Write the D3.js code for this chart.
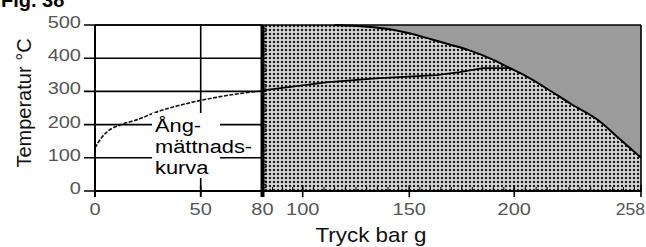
<!DOCTYPE html>
<html>
<head>
<meta charset="utf-8">
<script src="https://cdn.jsdelivr.net/npm/d3@7"></script>
<style>
  body { margin: 0; background: #fff; }
  text { font-family: "Liberation Sans", Arial, sans-serif; }
</style>
</head>
<body>
<div id="chart"></div>
<script>
// tick labels
var xTicks = [0, 50, 80, 100, 150, 200, 258];
var yTicks = [0, 100, 200, 300, 400, 500];

// saturation curve (Ång-mättnadskurva), pressure bar g / temperatur °C
var satP = [0, 3, 6, 12, 20, 30, 40, 50, 64, 80];
var satT = [130, 160, 180, 199, 215, 240, 258, 273, 289, 302];

// middle line in the dotted zone
var midP = [80, 93, 112, 136, 163, 174, 185, 198];
var midT = [303, 313, 328, 340, 349, 358, 370, 370];

// upper limit curve, gray above it
var limP = [115, 130, 140, 150, 160, 170, 178, 190, 198, 207, 215, 226, 239, 248, 258];
var limT = [500, 495, 488, 475, 458, 440, 425, 395, 370, 340, 308, 262, 210, 158, 100];

var labelLines = ["Ång-", "mättnads-", "kurva"];

var W = 646, H = 247;
var svg = d3.select("#chart").append("svg").attr("width", W).attr("height", H);

// axis positions (drawing is slightly uneven)
var x = d3.scaleLinear().domain(xTicks).range([95, 200.7, 262.5, 302.7, 409.3, 514.3, 641]);
var y = d3.scaleLinear().domain([0, 500]).range([191, 25]);

function zip(a, b) { return a.map(function(d, i) { return [d, b[i]]; }); }

// dot pattern
var defs = svg.append("defs");
var pat = defs.append("pattern").attr("id", "dots").attr("patternUnits", "userSpaceOnUse")
  .attr("width", 4).attr("height", 4);
pat.append("rect").attr("width", 4).attr("height", 4).attr("fill", "#e4e4e4");
pat.append("rect").attr("x", 0.5).attr("y", 0.5).attr("width", 3).attr("height", 3).attr("fill", "#a8a8a8");
pat.append("rect").attr("x", 1).attr("y", 1).attr("width", 2).attr("height", 2).attr("fill", "#1e1e1e");

var x80 = x(80), xR = x(258), yTop = y(500), yBot = y(0);

svg.append("rect").attr("x", x80).attr("y", yTop).attr("width", xR - x80).attr("height", yBot - yTop)
  .attr("fill", "url(#dots)");

// gray zone above the limit curve
var lim = zip(limP, limT);
var limLine = d3.line().curve(d3.curveMonotoneX).x(function(d) { return x(d[0]); }).y(function(d) { return y(d[1]); });
svg.append("path").datum(lim)
  .attr("d", d3.area().curve(d3.curveMonotoneX).x(function(d) { return x(d[0]); }).y0(yTop).y1(function(d) { return y(d[1]); }))
  .attr("fill", "#9b9b9b");
svg.append("path").datum(lim).attr("d", limLine)
  .attr("fill", "none").attr("stroke", "#000").attr("stroke-width", 2);

// middle line
svg.append("path").datum(zip(midP, midT))
  .attr("d", d3.line().x(function(d) { return x(d[0]); }).y(function(d) { return y(d[1]); }))
  .attr("fill", "none").attr("stroke", "#000").attr("stroke-width", 1.8);

// left grid
var g = svg.append("g").attr("stroke", "#000").attr("stroke-width", 1.6);
yTicks.forEach(function(t) {
  g.append("line").attr("x1", 84).attr("x2", x80).attr("y1", y(t)).attr("y2", y(t));
});
g.append("line").attr("x1", x(50)).attr("x2", x(50)).attr("y1", yTop).attr("y2", yBot + 6);

// saturation curve
svg.append("path").datum(zip(satP, satT))
  .attr("d", d3.line().curve(d3.curveMonotoneX).x(function(d) { return x(d[0]); }).y(function(d) { return y(d[1]); }))
  .attr("fill", "none").attr("stroke", "#111").attr("stroke-width", 1.6).attr("stroke-dasharray", "4,1.5");

// label box
svg.append("rect").attr("x", 152).attr("y", 113).attr("width", 68).attr("height", 65).attr("fill", "#fff");
labelLines.forEach(function(s, i) {
  svg.append("text").attr("transform", "translate(155," + (131.5 + i * 21) + ") scale(1.15,1)")
    .attr("font-size", 19).attr("fill", "#000").text(s);
});

// frame and axes
svg.append("line").attr("x1", x(0)).attr("x2", xR).attr("y1", yTop).attr("y2", yTop).attr("stroke", "#000").attr("stroke-width", 1.6);
svg.append("line").attr("x1", xR).attr("x2", xR).attr("y1", yTop).attr("y2", yBot).attr("stroke", "#000").attr("stroke-width", 1.6);
svg.append("line").attr("x1", x(0)).attr("x2", x(0)).attr("y1", yTop).attr("y2", yBot + 6).attr("stroke", "#000").attr("stroke-width", 2);
svg.append("line").attr("x1", x80).attr("x2", x80).attr("y1", yTop).attr("y2", yBot + 6).attr("stroke", "#000").attr("stroke-width", 4);
svg.append("line").attr("x1", x(0) - 1).attr("x2", xR + 1).attr("y1", yBot).attr("y2", yBot).attr("stroke", "#000").attr("stroke-width", 2);

// minor ticks on the 80 line
d3.range(10, 500, 10).forEach(function(t) {
  svg.append("line").attr("x1", x80).attr("x2", x80 + 4).attr("y1", y(t)).attr("y2", y(t))
    .attr("stroke", "#000").attr("stroke-width", 1);
});
// minor ticks along the bottom in the dotted zone
d3.range(85, 258, 5).forEach(function(p) {
  svg.append("line").attr("x1", x(p)).attr("x2", x(p)).attr("y1", yBot).attr("y2", yBot - 4)
    .attr("stroke", "#000").attr("stroke-width", 1);
});
// major x ticks
xTicks.forEach(function(p) {
  svg.append("line").attr("x1", x(p)).attr("x2", x(p)).attr("y1", yBot - 6).attr("y2", yBot + 6)
    .attr("stroke", "#000").attr("stroke-width", 1.6);
});

// tick labels
xTicks.forEach(function(p, i) {
  var last = i === xTicks.length - 1;
  svg.append("text").attr("transform", "translate(" + (last ? 645 : x(p)) + ",215) scale(" + (last ? 1.1 : 1.25) + ",1)")
    .attr("text-anchor", last ? "end" : "middle").attr("font-size", 16).attr("fill", "#555").text(p);
});
yTicks.forEach(function(t) {
  svg.append("text").attr("transform", "translate(81," + (y(t) + 3) + ") scale(1.25,1)")
    .attr("text-anchor", "end").attr("font-size", 16).attr("fill", "#555").text(t);
});

// axis titles
svg.append("text").attr("transform", "translate(31,103) rotate(-90)")
  .attr("text-anchor", "middle").attr("font-size", 20).attr("fill", "#111").text("Temperatur °C");
svg.append("text").attr("transform", "translate(371,241.5) scale(1.12,1)")
  .attr("text-anchor", "middle").attr("font-size", 20).attr("fill", "#111").text("Tryck bar g");

// figure title, cut off at the top like the original
svg.append("text").attr("x", 1).attr("y", 7).attr("font-size", 20).attr("font-weight", "bold")
  .attr("fill", "#000").text("Fig. 38");
</script>
</body>
</html>
